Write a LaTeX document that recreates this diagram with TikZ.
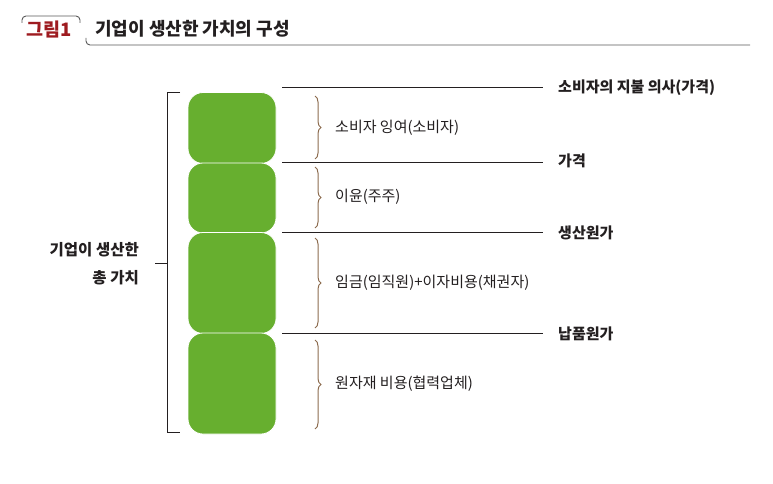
\documentclass[tikz,border=0pt]{standalone}
\usepackage{fontspec}
\setmainfont{Noto Sans CJK KR}
\usetikzlibrary{decorations.pathreplacing}
\definecolor{titlered}{HTML}{9E1B20}
\definecolor{boxgreen}{HTML}{67AF2F}
\definecolor{bracebrown}{HTML}{8C6B4E}
\definecolor{ink}{HTML}{231F20}
\tikzset{
  blk/.style={fill=boxgreen, draw=white, line width=0.8pt, rounded corners=15pt, minimum width=88pt, inner sep=0pt},
  lvl/.style={anchor=west, inner sep=0pt, font=\fontsize{15}{17}\selectfont\bfseries, text=ink},
  part/.style={anchor=west, inner sep=0pt, font=\fontsize{15}{17}\selectfont, text=ink},
  hline/.style={draw=ink, line width=0.9pt},
  brc/.style={draw=bracebrown, line width=1pt, decorate, decoration={brace, amplitude=6pt}},
  frame/.style={draw=ink, line width=1pt},
  deco/.style={draw=black!65, line width=0.9pt, rounded corners=4pt}
}
\begin{document}
\begin{tikzpicture}[x=1pt,y=-1pt]
\useasboundingbox (0,0) rectangle (773,484);
% title
\draw[deco] (22,23) -- (22,16) -- (80,16) -- (80,23);
\draw[deco] (86,38) -- (86,45) -- (750,45);
\node[anchor=west, inner sep=0pt, text=titlered, font=\fontsize{18.5}{20}\selectfont\bfseries] (fig) at (26,29) {그림1};
\node[anchor=west, inner sep=0pt, text=ink, font=\fontsize{18}{20}\selectfont\bfseries] (title) at (95,29) {기업이 생산한 가치의 구성};
% blocks
\node[blk, minimum height=71pt] (b1) at (232,128) {};
\node[blk, minimum height=70pt] (b2) at (232,198) {};
\node[blk, minimum height=101pt] (b3) at (232,283) {};
\node[blk, minimum height=101pt] (b4) at (232,383.5) {};
% level labels and lines
\node[lvl] (l1) at (558,88) {소비자의 지불 의사(가격)};
\node[lvl] (l2) at (558,161) {가격};
\node[lvl] (l3) at (558,233) {생산원가};
\node[lvl] (l4) at (558,334) {납품원가};
\coordinate (s1) at (282,87);
\coordinate (s2) at (282,162);
\coordinate (s3) at (282,232);
\coordinate (s4) at (282,333);
\draw[hline] (s1) -- (s1 -| {543,0});
\draw[hline] (s2) -- (s2 -| {543,0});
\draw[hline] (s3) -- (s3 -| {543,0});
\draw[hline] (s4) -- (s4 -| {543,0});
% braces
\draw[brc] (315,96) -- (315,159) coordinate[midway] (m1);
\draw[brc] (315,167) -- (315,228) coordinate[midway] (m2);
\draw[brc] (315,238) -- (315,328) coordinate[midway] (m3);
\draw[brc] (315,340) -- (315,429) coordinate[midway] (m4);
\node[part] (p1) at (335,128) {소비자 잉여(소비자)};
\node[part] (p2) at (335,197) {이윤(주주)};
\node[part] (p3) at (335,283) {임금(임직원)+이자비용(채권자)};
\node[part] (p4) at (335,384) {원자재 비용(협력업체)};
% left bracket
\draw[frame] (180,93) -- (167,93) -- (167,432) -- (180,432);
\coordinate (tick) at (167,263);
\draw[frame] (tick) -- ++(-12,0);
\node[anchor=east, align=right, inner sep=0pt, text=ink, font=\fontsize{15.5}{28}\selectfont\bfseries] (tot) at (139,264) {기업이 생산한\\총 가치};
\end{tikzpicture}
\end{document}
